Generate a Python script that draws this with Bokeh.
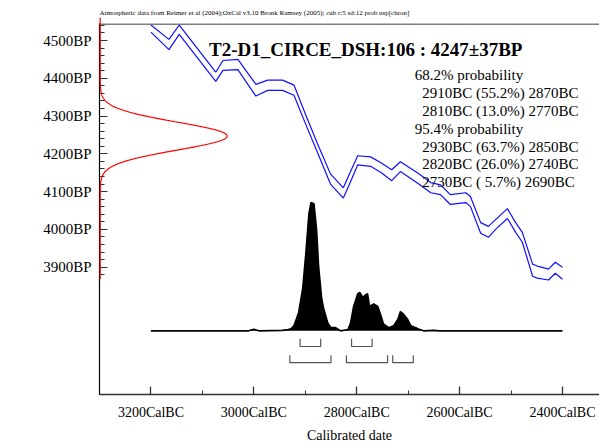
import numpy as np
from bokeh.plotting import figure
from bokeh.models import Range1d, FixedTicker, Label, Title, Span, CustomJSTickFormatter
from bokeh.embed import file_html
from bokeh.resources import INLINE

# ---------------- data ----------------
HEADER = ("Atmospheric data from Reimer et al (2004);OxCal v3.10 Bronk Ramsey (2005); "
          "cub r:5 sd:12 prob usp[chron]")
SAMPLE = "T2-D1_CIRCE_DSH:106"
R_DATE = 4247      # BP
R_SIGMA = 37       # BP
X_LABEL = "Calibrated date"
Y_LABEL = "Radiocarbon determination"

X_TICKS = [3200, 3000, 2800, 2600, 2400]
X_MINOR = [3300, 3100, 2900, 2700, 2500, 2300]
Y_TICKS = [3900, 4000, 4100, 4200, 4300, 4400, 4500]
Y_MINOR = [3880, 3900, 3920, 3940, 3960, 3980, 4000, 4020, 4040, 4060, 4080, 4100,
           4120, 4140, 4160, 4180, 4200, 4220, 4240, 4260, 4280, 4300, 4320, 4340,
           4360, 4380, 4400, 4420, 4440, 4460, 4480, 4500, 4520, 4540]

# calibration curve (cal BC, upper / lower 1-sigma envelope in BP)
CURVE_BC = [3200, 3165, 3145, 3074, 3060, 3031, 2996, 2973, 2944, 2922, 2899, 2876,
            2851, 2826, 2812, 2798, 2773, 2752, 2732, 2715, 2682, 2656, 2637, 2618,
            2588, 2579, 2559, 2544, 2530, 2507, 2491, 2478, 2458, 2449, 2427, 2414, 2400]
CURVE_UPPER = [4541, 4503, 4541, 4416, 4447, 4450, 4384, 4395, 4395, 4382, 4303, 4226,
               4147, 4110, 4153, 4195, 4192, 4176, 4158, 4179, 4150, 4124, 4118, 4092,
               4097, 4087, 4018, 4008, 4026, 4055, 4018, 3992, 3908, 3903, 3895, 3913, 3900]
CURVE_LOWER = [4522, 4476, 4516, 4392, 4421, 4423, 4353, 4368, 4368, 4355, 4278, 4203,
               4120, 4083, 4126, 4171, 4167, 4150, 4129, 4153, 4123, 4097, 4092, 4066,
               4071, 4061, 3990, 3979, 4000, 4029, 3992, 3966, 3876, 3871, 3866, 3884, 3868]

# calibrated probability distribution (relative, peak = 100)
CAL_BC = [3200, 3010, 3000, 2990, 2945, 2933, 2928, 2922, 2913, 2905, 2899, 2893, 2889,
          2883, 2878, 2874, 2868, 2864, 2856, 2850, 2841, 2831, 2817, 2812, 2806, 2798,
          2794, 2788, 2783, 2779, 2775, 2767, 2759, 2753, 2748, 2738, 2728, 2720, 2715,
          2709, 2701, 2695, 2685, 2680, 2670, 2650, 2640, 2400]
CAL_PROB = [0, 0, 1.2, 0, 0.4, 1, 1.6, 4, 14, 33, 60, 91, 100,
            99, 79, 50, 25, 17, 6, 2.5, 2.5, 0, 1, 6, 19, 29,
            30, 26, 28, 29, 19, 21, 19, 12, 5.5, 2.5, 4, 9, 15,
            13, 9, 4, 2.5, 1.5, 0, 0.4, 0, 0]

RANGES_68 = [(2910, 2870, 55.2), (2810, 2770, 13.0)]
RANGES_95 = [(2930, 2850, 63.7), (2820, 2740, 26.0), (2730, 2690, 5.7)]

FONT = "Liberation Serif"
X_START, X_END = 3300, 2328
Y_START, Y_END = 3563, 4545

# ---------------- figure ----------------
p = figure(width=599, height=445,
           x_range=Range1d(X_START, X_END), y_range=Range1d(Y_START, Y_END),
           output_backend="svg", toolbar_location=None,
           min_border_left=99, min_border_right=0, min_border_top=23, min_border_bottom=49)
p.grid.visible = False
p.outline_line_color = None
p.background_fill_color = "white"
p.border_fill_color = "white"

p.extra_y_ranges = {"prob": Range1d(-49.6, 239.5)}
p.extra_x_ranges = {"rdate": Range1d(-0.0055, 3.9315)}

# bottom axis
xa = p.xaxis[0]
xa.ticker = FixedTicker(ticks=X_TICKS, minor_ticks=X_MINOR)
xa.formatter = CustomJSTickFormatter(code="return tick + 'CalBC';")
xa.major_tick_in = 8
xa.major_tick_out = 0
xa.minor_tick_in = 4
xa.minor_tick_out = 0
xa.axis_line_color = "#333333"
xa.axis_line_width = 1.3
xa.major_tick_line_color = "#333333"
xa.major_tick_line_width = 1.3
xa.minor_tick_line_color = "#333333"
xa.major_label_text_font = FONT
xa.major_label_text_font_size = "14px"
xa.major_label_text_color = "black"
xa.major_label_standoff = 10
xa.axis_label = X_LABEL
xa.axis_label_text_font = FONT
xa.axis_label_text_font_size = "14px"
xa.axis_label_text_font_style = "normal"
xa.axis_label_text_color = "black"
xa.axis_label_standoff = 5

# left axis
ya = p.yaxis[0]
ya.ticker = FixedTicker(ticks=Y_TICKS, minor_ticks=Y_MINOR)
ya.formatter = CustomJSTickFormatter(code="return tick + 'BP';")
ya.major_tick_in = 8
ya.major_tick_out = 0
ya.minor_tick_in = 5
ya.minor_tick_out = 0
ya.axis_line_color = "black"
ya.axis_line_width = 1.2
ya.major_tick_line_color = "#333333"
ya.minor_tick_line_color = "#333333"
ya.major_label_text_font = FONT
ya.major_label_text_font_size = "15px"
ya.major_label_text_color = "black"
ya.major_label_standoff = 8

# header line above the plot
header = Title(text=HEADER, text_font=FONT, text_font_size="7px", text_font_style="normal",
               text_color="black", align="left", standoff=13, offset=0)
p.add_layout(header, "above")

# top frame border
p.add_layout(Span(location=Y_END - 1.2, dimension="width", line_color="#555555",
                  line_width=1.5))

# calibration curve
p.line(CURVE_BC, CURVE_UPPER, line_color="#1010ff", line_width=1.2)
p.line(CURVE_BC, CURVE_LOWER, line_color="#1010ff", line_width=1.2)

# radiocarbon measurement: normal distribution of 4247 +/- 37 BP
bp = np.arange(3869, 4561, 1.0)
dens = np.exp(-0.5 * ((bp - R_DATE) / R_SIGMA) ** 2)
p.line(dens, bp, x_range_name="rdate", line_color="red", line_width=1.2, level="overlay")

# calibrated distribution
p.varea(x=CAL_BC, y1=[0] * len(CAL_BC), y2=CAL_PROB, y_range_name="prob",
        fill_color="black")
p.line(CAL_BC, CAL_PROB, y_range_name="prob", line_color="black", line_width=1.6)

# range brackets
def brackets(ranges, top, bot):
    xs = [[a, a, b, b] for a, b, _ in ranges]
    ys = [[top, bot, bot, top] for _ in ranges]
    p.multi_line(xs, ys, y_range_name="prob", line_color="#555555", line_width=1.2)

brackets(RANGES_68, -6.2, -12.2)
brackets(RANGES_95, -19.1, -24.8)

# texts
p.add_layout(Label(x=3087, y=4475, text=f"{SAMPLE} : {R_DATE}\u00b1{R_SIGMA}BP",
                   text_font=FONT, text_font_size="19px", text_font_style="bold",
                   text_baseline="alphabetic", text_align="left", text_color="black"))

lines = [("68.2% probability", 2687)]
lines += [(f"{a}BC ({pc:4.1f}%) {b}BC", 2672.6) for a, b, pc in RANGES_68]
lines += [("95.4% probability", 2687)]
lines += [(f"{a}BC ({pc:4.1f}%) {b}BC", 2672.6) for a, b, pc in RANGES_95]
for i, (txt, xbc) in enumerate(lines):
    p.add_layout(Label(x=xbc, y=4408 - 47.2 * i, text=txt, text_font=FONT,
                       text_font_size="15px", text_baseline="alphabetic",
                       text_align="left", text_color="black"))

p.add_layout(Label(x=-81, x_units="screen", y=4205, text=Y_LABEL,
                   angle=np.pi / 2, text_font=FONT, text_font_size="16px",
                   text_align="center", text_baseline="middle", text_color="black"))

open("out.html", "w").write(file_html(p, INLINE))
